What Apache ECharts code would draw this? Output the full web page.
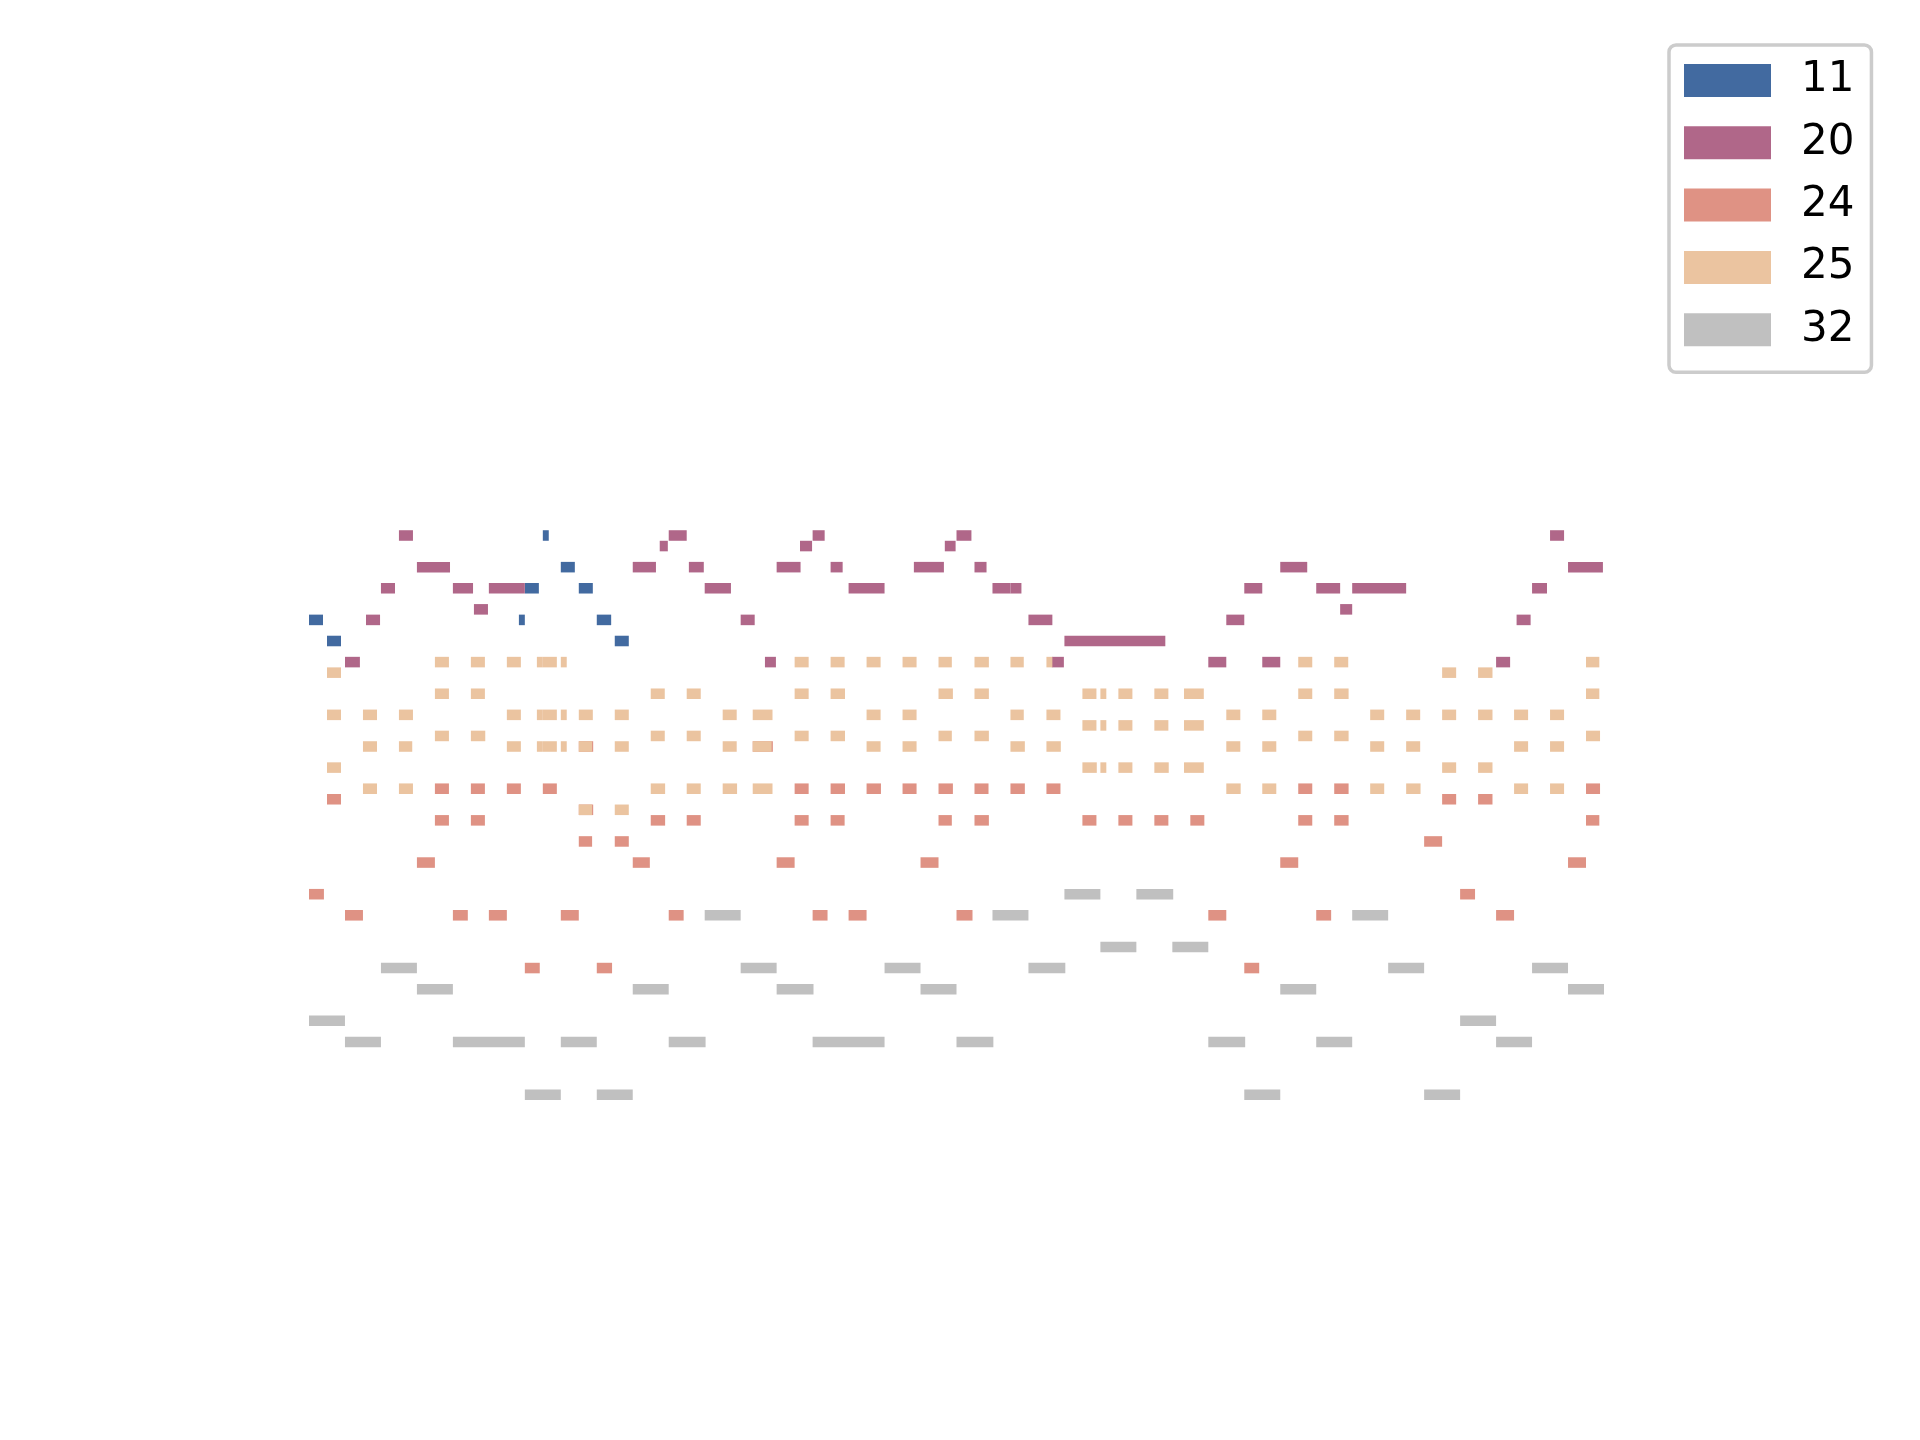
<!DOCTYPE html>
<html>
<head>
<meta charset="utf-8">
<script src="https://cdn.jsdelivr.net/npm/echarts@6/dist/echarts.min.js"></script>
<style>
html,body{margin:0;padding:0;background:#fff;}
#chart{width:1920px;height:1440px;}
</style>
</head>
<body>
<div id="chart"></div>
<script>
// Each note: [start (beats), duration (beats), pitch]
const instruments = ['11', '20', '24', '25', '32'];
const colors = ['#426AA0', '#B06789', '#DF9284', '#EBC4A0', '#C0C0C0'];

const notes11 = [
  [0, 0.78, 72], [1, 0.78, 70], [11.67, 0.33, 72], [12, 0.78, 75], [13, 0.33, 80],
  [14, 0.78, 77], [15, 0.78, 75], [16, 0.8, 72], [17, 0.78, 70]
];

const notes20 = [
  [5, 0.78, 80], [20, 1.0, 80], [28, 0.67, 80], [36, 0.83, 80], [69, 0.78, 80],
  [19.5, 0.45, 79], [27.3, 0.67, 79], [35.35, 0.6, 79],
  [6, 1.84, 77], [18, 1.29, 77], [21.12, 0.83, 77], [26, 1.33, 77], [29, 0.67, 77],
  [33.63, 1.67, 77], [37, 0.67, 77], [54, 1.5, 77], [70, 1.94, 77],
  [4, 0.78, 75], [8, 1.12, 75], [10, 2.0, 75], [22, 1.46, 75], [30, 2.0, 75], [38, 1.0, 75],
  [39, 0.61, 75], [52, 1.0, 75], [56, 1.33, 75], [58, 3.0, 75], [68, 0.83, 75],
  [9.17, 0.78, 73], [57.33, 0.67, 73],
  [3.17, 0.78, 72], [24, 0.78, 72], [40, 1.33, 72], [51, 1.0, 72], [67.14, 0.78, 72],
  [42, 5.61, 70],
  [2, 0.83, 68], [25.35, 0.61, 68], [41.3, 0.67, 68], [50, 1.0, 68], [53, 1.0, 68], [66, 0.78, 68]
];

const notes24 = [
  [15, 0.8, 60], [24.67, 1.12, 60],
  [7, 0.78, 56], [9, 0.78, 56], [11, 0.78, 56], [13, 0.78, 56], [27, 0.78, 56], [29, 0.8, 56],
  [31, 0.8, 56], [33, 0.78, 56], [35, 0.8, 56], [37, 0.78, 56], [39, 0.8, 56], [41, 0.78, 56],
  [55, 0.78, 56], [57, 0.8, 56], [71, 0.78, 56],
  [1, 0.78, 55], [63, 0.78, 55], [65, 0.8, 55],
  [15, 0.8, 54],
  [7, 0.78, 53], [9, 0.78, 53], [19, 0.8, 53], [21, 0.78, 53], [27, 0.78, 53], [29, 0.78, 53],
  [35, 0.74, 53], [37, 0.8, 53], [43, 0.78, 53], [45, 0.78, 53], [47, 0.78, 53], [49, 0.78, 53],
  [55, 0.78, 53], [57, 0.8, 53], [71, 0.74, 53],
  [15, 0.74, 51], [17, 0.78, 51], [62, 1.0, 51],
  [6, 1.0, 49], [18, 0.95, 49], [26, 1.0, 49], [34, 1.0, 49], [54, 1.0, 49], [70, 1.0, 49],
  [0, 0.83, 46], [64, 0.83, 46],
  [2, 1.0, 44], [8, 0.83, 44], [10, 1.0, 44], [14, 1.0, 44], [20, 0.83, 44], [28, 0.83, 44],
  [30, 1.0, 44], [36, 0.89, 44], [50, 1.0, 44], [56, 0.83, 44], [66, 1.0, 44],
  [12, 0.83, 39], [16, 0.85, 39], [52, 0.83, 39]
];

const notes25 = [
  [7, 0.78, 68], [9, 0.78, 68], [11, 0.78, 68], [12.67, 0.33, 68], [13, 0.78, 68], [14, 0.33, 68],
  [27, 0.78, 68], [29, 0.78, 68], [31, 0.78, 68], [33, 0.78, 68], [35, 0.74, 68], [37, 0.8, 68],
  [39, 0.74, 68], [41, 0.33, 68], [55, 0.78, 68], [57, 0.78, 68], [71, 0.74, 68],
  [1, 0.78, 67], [63, 0.78, 67], [65, 0.8, 67],
  [7, 0.78, 65], [9, 0.78, 65], [19, 0.78, 65], [21, 0.78, 65], [27, 0.78, 65], [29, 0.8, 65],
  [35, 0.8, 65], [37, 0.8, 65], [43, 0.78, 65], [44, 0.33, 65], [45, 0.78, 65], [47, 0.78, 65],
  [48.65, 1.1, 65], [55, 0.78, 65], [57, 0.8, 65], [71, 0.74, 65],
  [1, 0.78, 63], [3, 0.78, 63], [5, 0.78, 63], [11, 0.78, 63], [12.67, 0.33, 63], [13, 0.78, 63],
  [14, 0.33, 63], [15, 0.78, 63], [17, 0.78, 63], [23, 0.78, 63], [24.67, 1.1, 63], [31, 0.78, 63],
  [33, 0.78, 63], [39, 0.74, 63], [41, 0.78, 63], [51, 0.78, 63], [53, 0.78, 63], [59, 0.78, 63],
  [61, 0.78, 63], [63, 0.78, 63], [65, 0.8, 63], [67, 0.78, 63], [69, 0.78, 63],
  [43, 0.78, 62], [44, 0.33, 62], [45, 0.78, 62], [47, 0.78, 62], [48.65, 1.1, 62],
  [7, 0.78, 61], [9, 0.8, 61], [19, 0.78, 61], [21, 0.78, 61], [27, 0.78, 61], [29, 0.8, 61],
  [35, 0.74, 61], [37, 0.8, 61], [55, 0.78, 61], [57, 0.8, 61], [71, 0.78, 61],
  [3, 0.78, 60], [5, 0.74, 60], [11, 0.78, 60], [12.67, 0.33, 60], [13, 0.78, 60], [14, 0.33, 60],
  [15, 0.74, 60], [17, 0.78, 60], [23, 0.78, 60], [24.67, 1.05, 60], [31, 0.78, 60], [33, 0.78, 60],
  [39, 0.8, 60], [41, 0.8, 60], [51, 0.78, 60], [53, 0.78, 60], [59, 0.78, 60], [61, 0.78, 60],
  [67, 0.78, 60], [69, 0.78, 60],
  [1, 0.78, 58], [43, 0.8, 58], [44, 0.33, 58], [45, 0.78, 58], [47, 0.8, 58], [48.65, 1.1, 58],
  [63, 0.78, 58], [65, 0.8, 58],
  [3, 0.78, 56], [5, 0.78, 56], [19, 0.8, 56], [21, 0.78, 56], [23, 0.8, 56], [24.67, 1.1, 56],
  [51, 0.8, 56], [53, 0.78, 56], [59, 0.78, 56], [61, 0.8, 56], [67, 0.78, 56], [69, 0.78, 56],
  [15, 0.74, 54], [17, 0.78, 54]
];

const notes32 = [
  [42, 2.0, 46], [46, 2.05, 46],
  [22, 2.0, 44], [38, 2.0, 44], [58, 2.0, 44],
  [44, 2.0, 41], [48, 2.0, 41],
  [4, 2.0, 39], [24, 2.0, 39], [32, 2.0, 39], [40, 2.05, 39], [60, 2.0, 39], [68, 2.0, 39],
  [6, 2.0, 37], [18, 2.0, 37], [26, 2.05, 37], [34, 2.0, 37], [54, 2.0, 37], [70, 2.0, 37],
  [0, 2.0, 34], [64, 2.0, 34],
  [2, 2.0, 32], [8, 4.0, 32], [14, 2.0, 32], [20, 2.05, 32], [28, 4.0, 32], [36, 2.05, 32],
  [50, 2.05, 32], [56, 2.0, 32], [66, 2.0, 32],
  [12, 2.0, 27], [16, 2.0, 27], [52, 2.0, 27], [62, 2.0, 27]
];

const allNotes = [notes11, notes20, notes24, notes25, notes32];

function renderNote(params, api) {
  const start = api.value(0), dur = api.value(1), pitch = api.value(2);
  const p0 = api.coord([start, pitch + 0.5]);
  const p1 = api.coord([start + dur, pitch - 0.5]);
  return {
    type: 'rect',
    shape: { x: p0[0], y: p0[1], width: p1[0] - p0[0], height: p1[1] - p0[1] },
    style: { fill: api.visual('color') }
  };
}

const chart = echarts.init(document.getElementById('chart'), null, { renderer: 'canvas' });
chart.setOption({
  backgroundColor: '#ffffff',
  animation: false,
  grid: { left: 309, top: 430, width: 1295, height: 738.5, containLabel: false },
  xAxis: { type: 'value', min: 0, max: 72, show: false },
  yAxis: { type: 'value', min: 20, max: 90, show: false },
  legend: {
    orient: 'vertical',
    left: 1669, top: 45,
    data: instruments,
    icon: 'rect',
    itemWidth: 87, itemHeight: 33, itemGap: 20.3,
    padding: [14.5, 17, 21.5, 15],
    backgroundColor: '#ffffff',
    borderColor: '#cccccc', borderWidth: 3.5, borderRadius: 7,
    selectedMode: false,
    textStyle: {
      fontFamily: 'DejaVu Sans', fontSize: 42, color: '#000000',
      padding: [0, 0, 0, 25]
    }
  },
  series: instruments.map((name, i) => ({
    name: name,
    type: 'custom',
    renderItem: renderNote,
    itemStyle: { color: colors[i] },
    encode: { x: 0, y: 2 },
    data: allNotes[i]
  }))
});
</script>
</body>
</html>
